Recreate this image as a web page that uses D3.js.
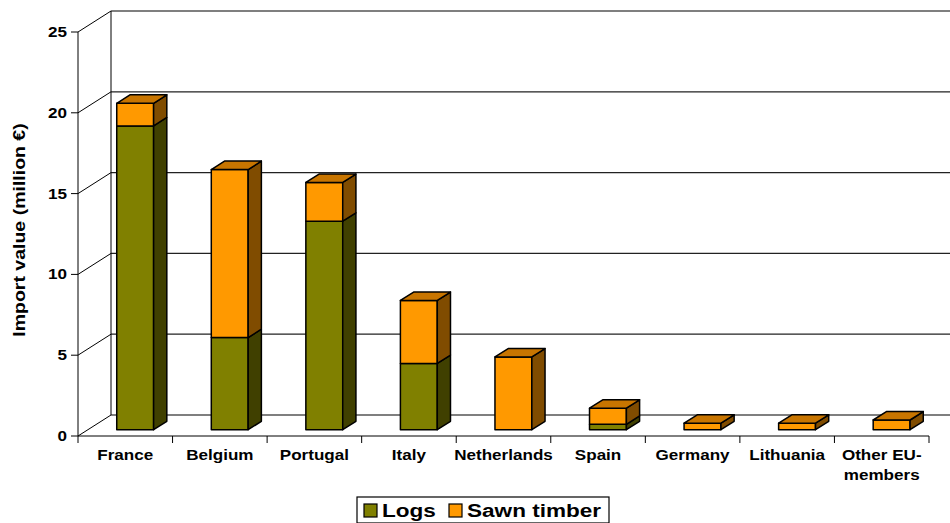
<!DOCTYPE html>
<html>
<head>
<meta charset="utf-8">
<script src="https://cdn.jsdelivr.net/npm/d3@7"></script>
<style>
  body { margin: 0; background: #fff; }
  svg { display: block; font-family: Arial, "Liberation Sans", sans-serif; }
</style>
</head>
<body>
<div id="chart"></div>
<script>
// Import value by country, million €
const countries = ["France", "Belgium", "Portugal", "Italy", "Netherlands", "Spain", "Germany", "Lithuania", "Other EU-members"];
const logs = [18.8, 5.7, 12.9, 4.1, 0, 0.33, 0, 0, 0];
const sawnTimber = [1.4, 10.4, 2.4, 3.9, 4.5, 1.0, 0.4, 0.4, 0.6];
const yTicks = [0, 5, 10, 15, 20, 25];

const width = 950, height = 523;
const stretch = 1.22; // text in the original is drawn a bit wide

const svg = d3.select("#chart").append("svg")
    .attr("width", width)
    .attr("height", height);

const x = d3.scaleBand()
    .domain(countries)
    .range([78, 929]);

const y = d3.scaleLinear()
    .domain([0, 25])
    .range([436, 32]);

// depth of the 3d box (wall offset)
const dx = 33, dy = -21;
const barW = x.bandwidth() * 0.39;
const bdx = dx * 0.4, bdy = dy * 0.4;
const fx = dx * 0.3, fy = dy * 0.3;

const series = [
    { name: "Logs", values: logs, front: "#808000", side: "#404000", top: "#606000" },
    { name: "Sawn timber", values: sawnTimber, front: "#FF9900", side: "#804C00", top: "#C87500" }
];

// walls + gridlines
const grid = svg.append("g");
yTicks.forEach(t => {
    const gy = y(t);
    grid.append("line")
        .attr("x1", 78).attr("y1", gy)
        .attr("x2", 78 + dx).attr("y2", gy + dy)
        .attr("stroke", "#000").attr("stroke-width", 1);
    grid.append("line")
        .attr("x1", 78 + dx).attr("y1", gy + dy)
        .attr("x2", width).attr("y2", gy + dy)
        .attr("stroke", t === 0 || t === 25 ? "#555" : "#222").attr("stroke-width", 1.3);
    grid.append("line")
        .attr("x1", 71).attr("x2", 78)
        .attr("y1", gy).attr("y2", gy)
        .attr("stroke", "#000");
    grid.append("text")
        .attr("transform", `translate(67,${gy + 5}) scale(${stretch},1)`)
        .attr("text-anchor", "end")
        .style("font-size", "14px")
        .style("font-weight", "bold")
        .text(t);
});
grid.append("line")
    .attr("x1", 78 + dx).attr("y1", y(25) + dy)
    .attr("x2", 78 + dx).attr("y2", y(0) + dy)
    .attr("stroke", "#000");
grid.append("line")
    .attr("x1", 78).attr("y1", y(25))
    .attr("x2", 78).attr("y2", y(0))
    .attr("stroke", "#000");

// x axis
svg.append("line")
    .attr("x1", 78).attr("x2", 929)
    .attr("y1", y(0)).attr("y2", y(0))
    .attr("stroke", "#000");
countries.forEach(c => {
    svg.append("line")
        .attr("x1", x(c)).attr("x2", x(c))
        .attr("y1", y(0)).attr("y2", y(0) + 7)
        .attr("stroke", "#000");
});
svg.append("line")
    .attr("x1", 929).attr("x2", 929)
    .attr("y1", y(0)).attr("y2", y(0) + 7)
    .attr("stroke", "#000");

const xLabels = svg.append("g");
countries.forEach(c => {
    const cx = x(c) + x.bandwidth() / 2;
    const t = xLabels.append("text")
        .attr("transform", `translate(${cx},460) scale(${stretch},1)`)
        .attr("text-anchor", "middle")
        .style("font-size", "14px")
        .style("font-weight", "bold");
    if (c === "Other EU-members") {
        t.append("tspan").attr("x", 0).text("Other EU-");
        t.append("tspan").attr("x", 0).attr("dy", 20).text("members");
    } else {
        t.text(c);
    }
});

// 3d bars
const bars = svg.append("g");
countries.forEach((c, i) => {
    const x0 = x(c) + (x.bandwidth() - barW) / 2 + fx;
    let base = 0;
    const segs = [];
    series.forEach(s => {
        const v = s.values[i];
        if (v > 0) segs.push({ s, v0: base, v1: base + v });
        base += v;
    });
    segs.forEach((seg, k) => {
        const yb = y(seg.v0) + fy, yt = y(seg.v1) + fy;
        const g = bars.append("g")
            .attr("stroke", "#000")
            .attr("stroke-width", 1.5)
            .attr("stroke-linejoin", "round");
        g.append("rect")
            .attr("x", x0).attr("y", yt)
            .attr("width", barW).attr("height", yb - yt)
            .attr("fill", seg.s.front);
        g.append("path")
            .attr("d", `M${x0 + barW},${yb}L${x0 + barW + bdx},${yb + bdy}L${x0 + barW + bdx},${yt + bdy}L${x0 + barW},${yt}Z`)
            .attr("fill", seg.s.side);
        if (k === segs.length - 1) {
            g.append("path")
                .attr("d", `M${x0},${yt}L${x0 + bdx},${yt + bdy}L${x0 + barW + bdx},${yt + bdy}L${x0 + barW},${yt}Z`)
                .attr("fill", seg.s.top);
        }
    });
});

// y axis title
svg.append("text")
    .attr("transform", `translate(25,230) rotate(-90) scale(${stretch},1)`)
    .attr("text-anchor", "middle")
    .style("font-size", "16px")
    .style("font-weight", "bold")
    .text("Import value (million €)");

// legend
const legend = svg.append("g").attr("transform", "translate(357,497)");
legend.append("rect")
    .attr("width", 252).attr("height", 26)
    .attr("fill", "#fff").attr("stroke", "#000").attr("stroke-width", 1.2);
const legX = [7, 92];
series.forEach((s, i) => {
    legend.append("rect")
        .attr("x", legX[i]).attr("y", 7)
        .attr("width", 13).attr("height", 13)
        .attr("fill", s.front).attr("stroke", "#000").attr("stroke-width", 1.2);
    legend.append("text")
        .attr("transform", `translate(${legX[i] + 18},20) scale(${stretch},1)`)
        .style("font-size", "18.5px")
        .style("font-weight", "bold")
        .text(s.name);
});
</script>
</body>
</html>
